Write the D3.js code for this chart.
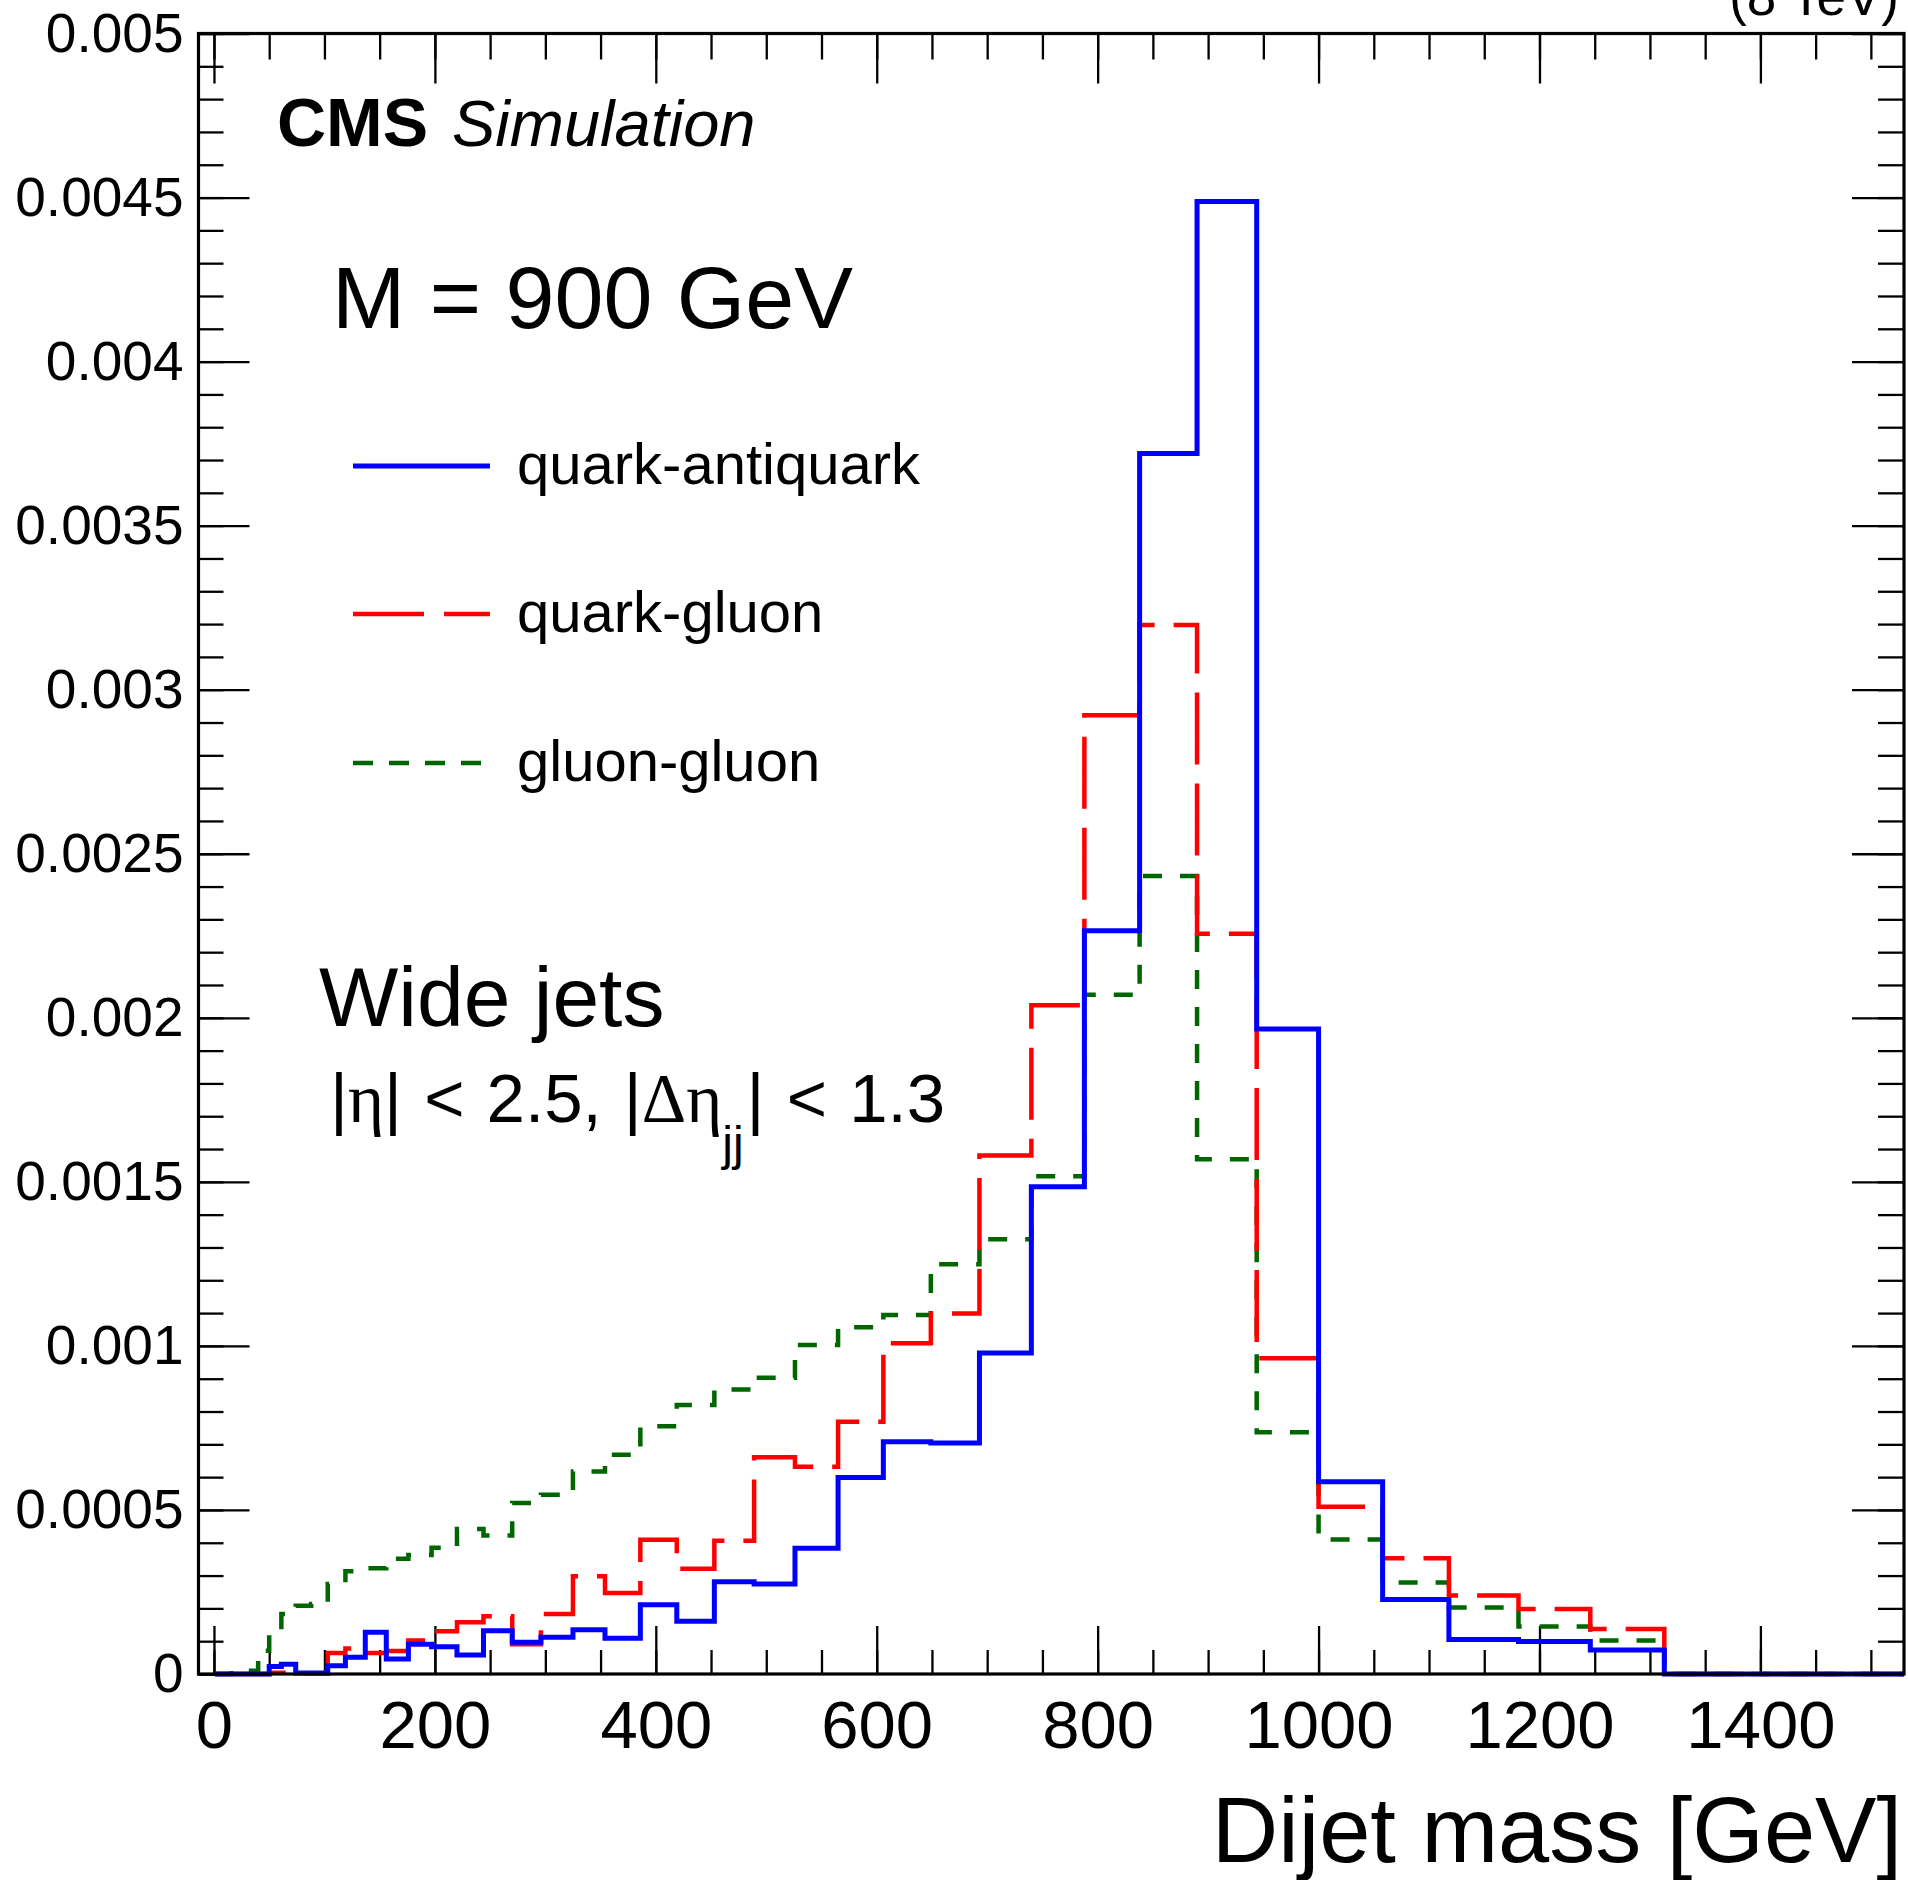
<!DOCTYPE html>
<html>
<head>
<meta charset="utf-8">
<script src="https://cdn.jsdelivr.net/npm/d3@7"></script>
<style>
  body { margin: 0; background: #fff; }
  svg { display: block; font-family: "Liberation Sans", Arial, Helvetica, sans-serif; }
</style>
</head>
<body>
<svg id="chart" width="1908" height="1880" viewBox="0 0 1908 1880"></svg>
<script>
// --- Data ---
// dijet mass bin edges, GeV
const binEdges = [1, 3, 6, 10, 16, 23, 31, 40, 50, 61, 74, 88, 103, 119, 137, 156, 176, 197, 220, 244,
  270, 296, 325, 354, 386, 419, 453, 489, 526, 565, 606, 649, 693, 740, 788, 838, 890, 944, 1000,
  1058, 1118, 1181, 1246, 1313, 1383, 1455, 1530];

// normalised entries per bin
const qqbar = [0, 0, 0, 0, 0, 0, 0, 0, 0.23e-4, 0.30e-4, 0.03e-4, 0.03e-4, 0.25e-4, 0.51e-4, 1.27e-4,
  0.46e-4, 0.91e-4, 0.83e-4, 0.58e-4, 1.32e-4, 0.97e-4, 1.12e-4, 1.35e-4, 1.09e-4, 2.11e-4, 1.61e-4,
  2.81e-4, 2.74e-4, 3.83e-4, 5.99e-4, 7.08e-4, 7.04e-4, 9.78e-4, 14.85e-4, 22.65e-4, 37.20e-4,
  44.88e-4, 19.66e-4, 5.86e-4, 2.27e-4, 1.05e-4, 0.99e-4, 0.73e-4, 0, 0, 0];
const qg = [0, 0, 0, 0, 0, 0, 0, 0, 0.04e-4, 0.04e-4, 0.02e-4, 0.02e-4, 0.64e-4, 0.78e-4, 0.64e-4,
  0.70e-4, 1.02e-4, 1.30e-4, 1.58e-4, 1.76e-4, 0.91e-4, 1.83e-4, 2.98e-4, 2.47e-4, 4.09e-4, 3.21e-4,
  4.06e-4, 6.61e-4, 6.32e-4, 7.69e-4, 10.08e-4, 10.99e-4, 15.80e-4, 20.38e-4, 29.22e-4, 31.97e-4,
  22.56e-4, 9.62e-4, 5.10e-4, 3.53e-4, 2.39e-4, 1.98e-4, 1.37e-4, 0, 0, 0];
const gg = [0, 0, 0, 0, 0.02e-4, 0.06e-4, 0.10e-4, 0.71e-4, 1.27e-4, 1.83e-4, 2.08e-4, 2.13e-4, 2.74e-4,
  3.13e-4, 3.22e-4, 3.51e-4, 3.63e-4, 3.85e-4, 4.42e-4, 4.22e-4, 5.21e-4, 5.46e-4, 6.17e-4, 6.68e-4,
  7.55e-4, 8.20e-4, 8.67e-4, 9.03e-4, 10.03e-4, 10.57e-4, 10.94e-4, 12.49e-4, 13.25e-4, 15.17e-4,
  20.70e-4, 24.32e-4, 15.69e-4, 7.37e-4, 4.10e-4, 2.79e-4, 2.03e-4, 1.45e-4, 1.02e-4, 0, 0, 0];

const xMajorTicks = [0, 200, 400, 600, 800, 1000, 1200, 1400];
const yMajorTicks = [0, 0.0005, 0.001, 0.0015, 0.002, 0.0025, 0.003, 0.0035, 0.004, 0.0045, 0.005];
const yTickLabels = ["0", "0.0005", "0.001", "0.0015", "0.002", "0.0025", "0.003", "0.0035", "0.004", "0.0045", "0.005"];
const seriesLabels = ["quark-antiquark", "quark-gluon", "gluon-gluon"];

function renderDijetChart(containerSelector) {
  const svg = d3.select(containerSelector);
  svg.selectAll("*").remove();

  svg.append("rect").attr("width", 1908).attr("height", 1880).attr("fill", "#fff");

  // --- Frame & scales ---
  const frame = { left: 198.5, right: 1904, top: 33.5, bottom: 1674 };
  const x = d3.scaleLinear().domain([-14, 1530]).range([frame.left, frame.right]);
  const y = d3.scaleLinear().domain([0, 0.005]).range([frame.bottom, frame.top]);

  const styles = {
    qqbar: { stroke: "#0000ff", width: 5, dash: null },
    qg: { stroke: "#ff0000", width: 4.5, dash: "72,19" },
    gg: { stroke: "#006600", width: 4.5, dash: "19,18" },
    tick: { stroke: "#000", width: 2.3 },
    frame: { stroke: "#000", width: 3.2 }
  };

  const xMinor = x.ticks(30);   // every 50 GeV
  const yMinor = y.ticks(50);   // every 0.0001

  // --- Axes (ticks on all four sides, pointing inward) ---
  function styleAxis(g) {
    g.select(".domain").remove();
    g.selectAll(".tick line").attr("stroke", styles.tick.stroke).attr("stroke-width", styles.tick.width);
  }

  svg.append("g").attr("transform", `translate(0,${frame.bottom})`)
    .call(d3.axisBottom(x).tickValues(xMinor).tickSize(-24).tickFormat("")).call(styleAxis);
  const xAxis = svg.append("g").attr("transform", `translate(0,${frame.bottom})`)
    .call(d3.axisBottom(x).tickValues(xMajorTicks).tickSize(-48).tickPadding(26).tickFormat(d3.format("d")))
    .call(styleAxis);
  xAxis.selectAll("text").attr("fill", "#000").style("font-size", "67px").style("font-family", "Liberation Sans");

  svg.append("g").attr("transform", `translate(0,${frame.top})`)
    .call(d3.axisTop(x).tickValues(xMinor).tickSize(-26).tickFormat("")).call(styleAxis);
  svg.append("g").attr("transform", `translate(0,${frame.top})`)
    .call(d3.axisTop(x).tickValues(xMajorTicks).tickSize(-50).tickFormat("")).call(styleAxis);

  svg.append("g").attr("transform", `translate(${frame.left},0)`)
    .call(d3.axisLeft(y).tickValues(yMinor).tickSize(-25).tickFormat("")).call(styleAxis);
  const yAxis = svg.append("g").attr("transform", `translate(${frame.left},0)`)
    .call(d3.axisLeft(y).tickValues(yMajorTicks).tickSize(-51).tickPadding(15)
      .tickFormat((d, i) => yTickLabels[i]))
    .call(styleAxis);
  yAxis.selectAll("text").attr("fill", "#000").style("font-size", "55px").style("font-family", "Liberation Sans");

  svg.append("g").attr("transform", `translate(${frame.right},0)`)
    .call(d3.axisRight(y).tickValues(yMinor).tickSize(-26).tickFormat("")).call(styleAxis);
  svg.append("g").attr("transform", `translate(${frame.right},0)`)
    .call(d3.axisRight(y).tickValues(yMajorTicks).tickSize(-52).tickFormat("")).call(styleAxis);

  // --- Histograms (staircase outlines) ---
  const line = d3.line().x(d => x(d[0])).y(d => y(d[1])).curve(d3.curveStepAfter);
  function histPoints(values) {
    const pts = values.map((v, i) => [binEdges[i], v]);
    pts.push([binEdges[binEdges.length - 1], values[values.length - 1]]);
    return pts;
  }
  function drawHist(values, style) {
    svg.append("path")
      .attr("d", line(histPoints(values)))
      .attr("fill", "none")
      .attr("stroke", style.stroke)
      .attr("stroke-width", style.width)
      .attr("stroke-dasharray", style.dash)
      .attr("stroke-linejoin", "miter");
  }
  drawHist(gg, styles.gg);
  drawHist(qg, styles.qg);
  drawHist(qqbar, styles.qqbar);

  // --- Frame ---
  svg.append("rect")
    .attr("x", frame.left).attr("y", frame.top)
    .attr("width", frame.right - frame.left).attr("height", frame.bottom - frame.top)
    .attr("fill", "none").attr("stroke", styles.frame.stroke).attr("stroke-width", styles.frame.width);

  // --- Texts ---
  function label(txt, xPos, yPos, size, opts = {}) {
    return svg.append("text")
      .attr("x", xPos).attr("y", yPos)
      .attr("text-anchor", opts.anchor || "start")
      .style("font-size", size + "px")
      .style("font-weight", opts.weight || "normal")
      .style("font-style", opts.italic ? "italic" : "normal")
      .attr("fill", "#000")
      .text(txt);
  }

  label("(8 TeV)", 1899, 15, 53, { anchor: "end" });
  label("CMS", 277, 146, 68, { weight: "bold" });
  label("Simulation", 452, 146, 65, { italic: true });
  label("M = 900 GeV", 332, 328, 88);

  // legend
  const legendRows = [
    { y: 466, style: styles.qqbar, x2: 490 },
    { y: 614, style: styles.qg, x2: 490 },
    { y: 763, style: styles.gg, x2: 484 }
  ];
  legendRows.forEach((r, i) => {
    svg.append("line")
      .attr("x1", 353).attr("x2", r.x2).attr("y1", r.y).attr("y2", r.y)
      .attr("stroke", r.style.stroke).attr("stroke-width", r.style.width)
      .attr("stroke-dasharray", i === 1 ? "71,20" : (i === 2 ? "20,16" : null));
    label(seriesLabels[i], 517, r.y + 18, 58);
  });

  label("Wide jets", 319, 1026, 84);

  const cuts = label("", 330, 1122, 69).style("word-spacing", "3px");
  cuts.append("tspan").text("|");
  cuts.append("tspan").style("font-family", "Liberation Serif").text("η");
  cuts.append("tspan").text("| < 2.5, |");
  cuts.append("tspan").style("font-family", "Liberation Serif").text("Δη");
  cuts.append("tspan").attr("dy", 38).style("font-size", "48px").text("jj");
  cuts.append("tspan").attr("dy", -38).attr("dx", 3).text("| < 1.3");

  label("Dijet mass [GeV]", 1902, 1862, 92, { anchor: "end" });
}

renderDijetChart("#chart");
</script>
</body>
</html>
